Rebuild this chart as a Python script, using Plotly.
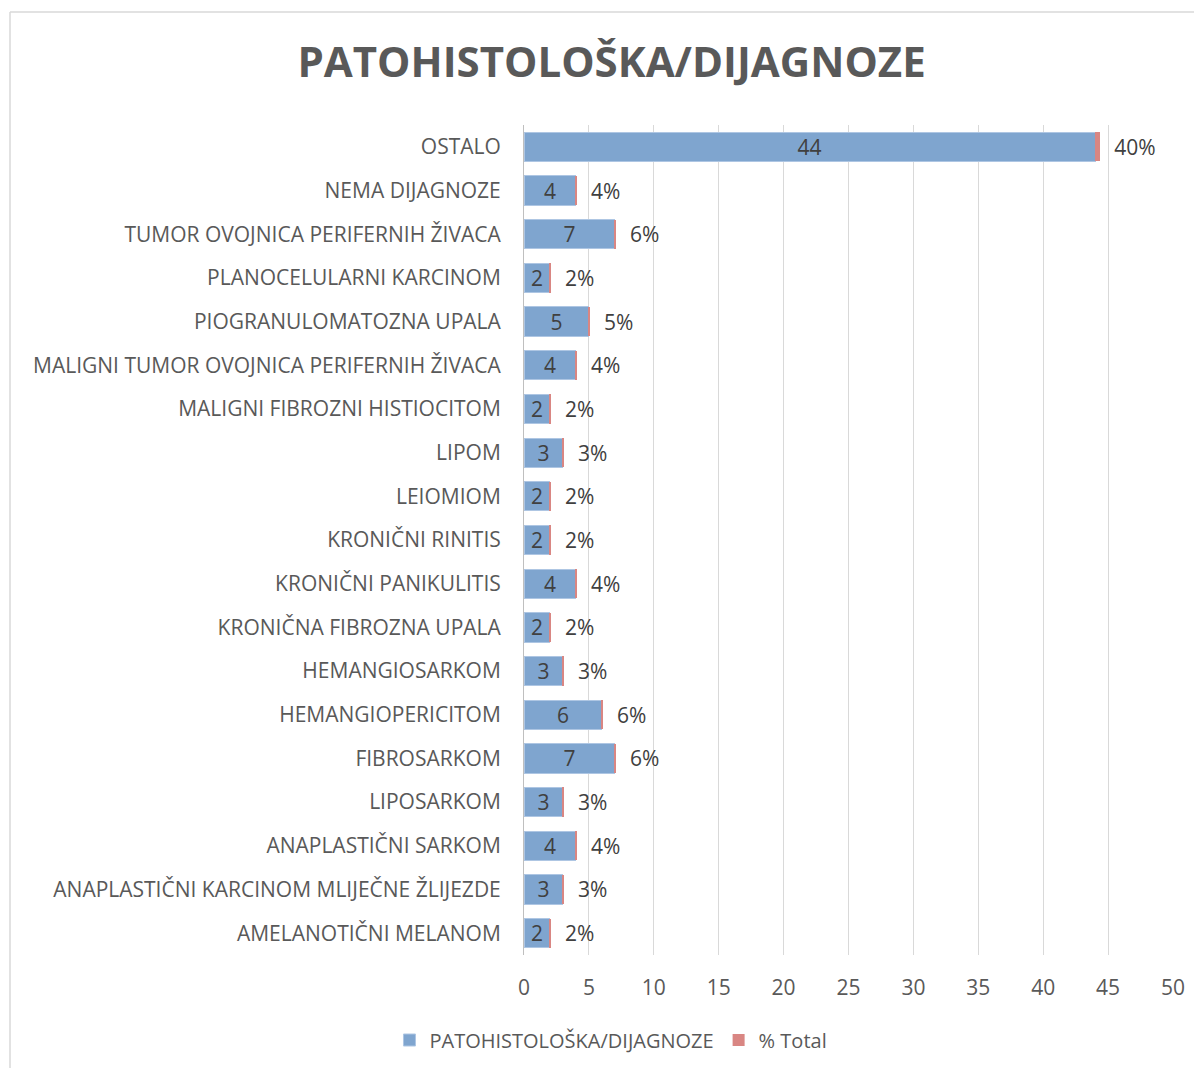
import plotly.graph_objects as go

categories = [
    "OSTALO",
    "NEMA DIJAGNOZE",
    "TUMOR OVOJNICA PERIFERNIH ŽIVACA",
    "PLANOCELULARNI KARCINOM",
    "PIOGRANULOMATOZNA UPALA",
    "MALIGNI TUMOR OVOJNICA PERIFERNIH ŽIVACA",
    "MALIGNI FIBROZNI HISTIOCITOM",
    "LIPOM",
    "LEIOMIOM",
    "KRONIČNI RINITIS",
    "KRONIČNI PANIKULITIS",
    "KRONIČNA FIBROZNA UPALA",
    "HEMANGIOSARKOM",
    "HEMANGIOPERICITOM",
    "FIBROSARKOM",
    "LIPOSARKOM",
    "ANAPLASTIČNI SARKOM",
    "ANAPLASTIČNI KARCINOM MLIJEČNE ŽLIJEZDE",
    "AMELANOTIČNI MELANOM",
]
counts = [44, 4, 7, 2, 5, 4, 2, 3, 2, 2, 4, 2, 3, 6, 7, 3, 4, 3, 2]
pct_total = [0.40, 0.04, 0.06, 0.02, 0.05, 0.04, 0.02, 0.03, 0.02, 0.02,
             0.04, 0.02, 0.03, 0.06, 0.06, 0.03, 0.04, 0.03, 0.02]

FONT = "Open Sans, sans-serif"
GRAY = "#595959"
W, H = 1194, 1060
L, R, T, B = 516, 29, 117, 113
PW, PH = W - L - R, H - T - B

fig = go.Figure()
fig.add_trace(go.Bar(
    y=categories, x=counts, orientation="h",
    name="PATOHISTOLOŠKA/DIJAGNOZE",
    marker=dict(color="#7fa5cf", line=dict(color="#aec6e3", width=1)),
    text=[str(c) for c in counts], textposition="inside", textangle=0,
    insidetextanchor="middle", constraintext="none",
    textfont=dict(family=FONT, size=21, color="#404040"),
    hoverinfo="x+y",
))
fig.add_trace(go.Bar(
    y=categories, x=pct_total, orientation="h",
    name="% Total",
    marker=dict(color="#d98683", line=dict(width=0)),
    text=["\u00a0\u00a0" + f"{round(p*100)}%" for p in pct_total],
    textposition="outside", textangle=0,
    constraintext="none", cliponaxis=False,
    textfont=dict(family=FONT, size=21, color="#404040"),
))

fig.update_layout(
    barmode="stack",
    bargap=0.33,
    width=W, height=H,
    margin=dict(l=L, r=R, t=T, b=B),
    paper_bgcolor="white", plot_bgcolor="white",
    font=dict(family=FONT, size=21, color=GRAY),
    title=dict(text="<b>PATOHISTOLOŠKA/DIJAGNOZE</b>", x=0.5055, xanchor="center",
               y=1 - 54 / H, yanchor="middle", xref="container", yref="container",
               font=dict(family=FONT, size=42, color=GRAY)),
    xaxis=dict(range=[0, 50], dtick=5, showgrid=True, gridcolor="#d9d9d9", gridwidth=1,
               zeroline=False, showline=False, ticks="", ticklen=0,
               ticklabelstandoff=18,
               tickfont=dict(family=FONT, size=21, color=GRAY)),
    yaxis=dict(autorange="reversed", showline=True, linecolor="#bfbfbf", linewidth=1,
               ticks="", ticklabelstandoff=18,
               tickfont=dict(family=FONT, size=21, color=GRAY)),
    legend=dict(orientation="h", xref="container", yref="container",
                x=0.505, xanchor="center", y=1 - 1032 / H, yanchor="middle",
                font=dict(family=FONT, size=20, color=GRAY),
                itemwidth=30, traceorder="normal"),
    showlegend=True,
    shapes=[
        dict(type="line", xref="paper", yref="paper",
             x0=(2 - L) / PW, x1=(W - L) / PW, y0=(T + PH - 4) / PH, y1=(T + PH - 4) / PH,
             line=dict(color="#d9d9d9", width=1.5)),
        dict(type="line", xref="paper", yref="paper",
             x0=(2 - L) / PW, x1=(2 - L) / PW, y0=(T + PH - 4) / PH, y1=-(B + 10) / PH,
             line=dict(color="#d9d9d9", width=1.5)),
    ],
)

fig.write_html("out.html")
